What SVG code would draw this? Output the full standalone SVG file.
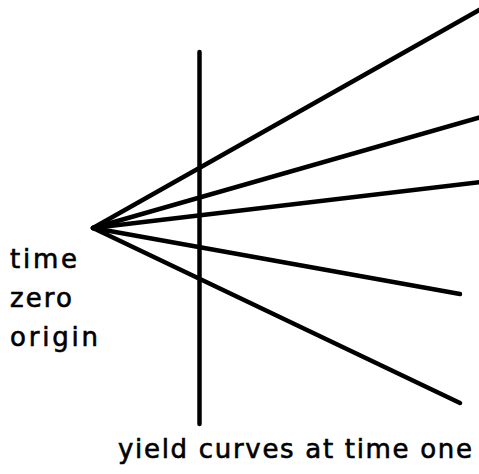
<svg xmlns="http://www.w3.org/2000/svg" width="479" height="474" viewBox="0 0 479 474">
<style>
.ln{stroke:#000;stroke-width:4.5;stroke-linecap:round;fill:none}
.t{font-family:"DejaVu Sans",sans-serif;font-size:26px;fill:#000;stroke:#000;stroke-width:0.6}
</style>
<rect width="479" height="474" fill="#fff"/>
<g id="connectors">
<line class="ln" x1="93" y1="228" x2="481" y2="9"/>
<line class="ln" x1="93" y1="228" x2="481" y2="117"/>
<line class="ln" x1="93" y1="228" x2="481" y2="182"/>
<line class="ln" x1="93" y1="228" x2="460" y2="294"/>
<line class="ln" x1="93" y1="228" x2="460" y2="403"/>
<line class="ln" x1="199.5" y1="52" x2="199.5" y2="424" stroke-linecap="butt"/>
</g>
<g id="origin-label">
<text class="t" x="10" y="268" textLength="67" lengthAdjust="spacing">time</text>
<text class="t" x="10" y="307" textLength="62" lengthAdjust="spacing">zero</text>
<text class="t" x="10" y="346" textLength="88" lengthAdjust="spacing">origin</text>
</g>
<g id="axis-label">
<text class="t" x="118" y="458" textLength="354" lengthAdjust="spacing">yield curves at time one</text>
</g>
</svg>
